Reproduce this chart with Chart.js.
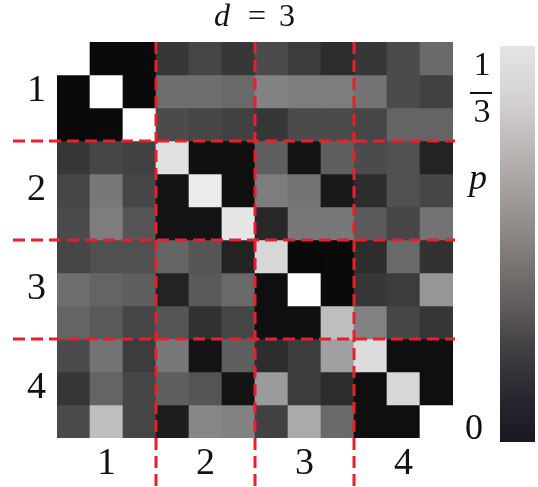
<!DOCTYPE html>
<html>
<head>
<meta charset="utf-8">
<script src="https://cdn.jsdelivr.net/npm/chart.js@4/dist/chart.umd.min.js"></script>
<style>
    html, body { margin: 0; padding: 0; background: #fff; }
    #wrap { width: 538px; height: 487px; }
</style>
</head>
<body>
<div id="wrap"><canvas id="myChart"></canvas></div>
<script>
// p values, row by row (top to bottom), 12 x 12
const pValues = [
    [0.333, 0.013, 0.013, 0.072, 0.092, 0.072, 0.098, 0.078, 0.059, 0.072, 0.098, 0.137],
    [0.013, 0.333, 0.013, 0.144, 0.144, 0.137, 0.170, 0.163, 0.163, 0.150, 0.098, 0.085],
    [0.013, 0.013, 0.333, 0.098, 0.092, 0.085, 0.072, 0.098, 0.098, 0.092, 0.131, 0.131],
    [0.072, 0.092, 0.085, 0.294, 0.020, 0.020, 0.124, 0.026, 0.124, 0.098, 0.105, 0.046],
    [0.092, 0.157, 0.092, 0.026, 0.307, 0.020, 0.163, 0.150, 0.033, 0.059, 0.105, 0.092],
    [0.098, 0.163, 0.111, 0.026, 0.026, 0.301, 0.052, 0.157, 0.157, 0.118, 0.092, 0.150],
    [0.092, 0.105, 0.105, 0.131, 0.111, 0.046, 0.281, 0.013, 0.013, 0.059, 0.137, 0.065],
    [0.144, 0.131, 0.124, 0.046, 0.118, 0.137, 0.020, 0.333, 0.013, 0.072, 0.078, 0.196],
    [0.131, 0.118, 0.092, 0.111, 0.065, 0.092, 0.020, 0.020, 0.248, 0.170, 0.092, 0.072],
    [0.098, 0.150, 0.078, 0.157, 0.026, 0.124, 0.059, 0.078, 0.209, 0.288, 0.020, 0.020],
    [0.072, 0.131, 0.092, 0.124, 0.111, 0.026, 0.203, 0.078, 0.059, 0.020, 0.281, 0.020],
    [0.098, 0.248, 0.092, 0.039, 0.176, 0.170, 0.085, 0.222, 0.137, 0.020, 0.020, 0.333]
]
const blockLabels = ['1', '2', '3', '4']
const blockSize = 3
const pMax = 1 / 3

// colour bar stops (fraction of pMax -> colour)
const barStops = [0, 0.1, 0.23, 0.36, 0.53, 0.66, 0.86, 1]
const barColors = ['#191823', '#26252d', '#403e42', '#65605f', '#8e8885', '#aaa5a3', '#d3d1d0', '#e5e4e5']

const n = pValues.length
const columns = pValues[0].map((v, i) => 'c' + (i + 1))
const blockCenters = blockLabels.map((l, i) => i * blockSize + blockSize / 2)
const blockEdges = blockLabels.slice(1).map((l, i) => (i + 1) * blockSize)

function grey(p) {
    const g = Math.max(0, Math.min(255, Math.round(p / pMax * 255)))
    return 'rgb(' + g + ',' + g + ',' + g + ')'
}

const datasets = pValues.map((row, r) => ({
    label: 'row ' + (r + 1),
    data: row.map(() => 1),
    backgroundColor: row.map(grey),
    borderWidth: 0,
    barPercentage: 1,
    categoryPercentage: 1,
    stack: 's'
}))

const serif = "'Liberation Serif', 'DejaVu Serif', serif"

function blockLabel(i) {
    return i % blockSize === 1 ? blockLabels[Math.floor(i / blockSize)] : ''
}

const decor = {
    id: 'decor',
    afterDatasetsDraw(chart) {
        const ctx = chart.ctx
        const area = chart.chartArea
        const xs = chart.scales.x
        const ys = chart.scales.y
        ctx.save()

        // red dashed block separators
        ctx.strokeStyle = '#e8202a'
        ctx.lineWidth = 3
        ctx.setLineDash([12, 6])
        blockEdges.forEach(v => {
            const y = ys.getPixelForValue(v)
            ctx.beginPath()
            ctx.moveTo(13, y)
            ctx.lineTo(area.right + 2, y)
            ctx.stroke()
            const x = (xs.getPixelForTick(v - 1) + xs.getPixelForTick(v)) / 2
            ctx.beginPath()
            ctx.moveTo(x, area.top)
            ctx.lineTo(x, chart.height)
            ctx.stroke()
        })
        ctx.setLineDash([])

        // title d = 3
        const cx = (area.left + area.right) / 2
        ctx.fillStyle = '#111'
        ctx.textAlign = 'center'
        ctx.textBaseline = 'alphabetic'
        ctx.font = 'italic 32px ' + serif
        ctx.fillText('d', cx - 33, 26)
        ctx.font = '32px ' + serif
        ctx.fillText('=', cx + 2, 26)
        ctx.fillText('3', cx + 32, 26)

        // colour bar
        const bx = area.right + 47
        const bw = 35
        const top = area.top + 4
        const bottom = area.bottom + 4
        const grad = ctx.createLinearGradient(0, bottom, 0, top)
        barStops.forEach((s, i) => grad.addColorStop(s, barColors[i]))
        ctx.fillStyle = grad
        ctx.fillRect(bx, top, bw, bottom - top)

        // colour bar labels
        ctx.fillStyle = '#111'
        ctx.font = '34px ' + serif
        ctx.textBaseline = 'middle'
        ctx.fillText('1', 482, 66)
        ctx.fillText('3', 482, 113)
        ctx.fillRect(470, 92, 22, 2)
        ctx.font = 'italic 36px ' + serif
        ctx.fillText('p', 478, 180)
        ctx.font = '36px ' + serif
        ctx.fillText('0', 474, 430)
        ctx.restore()
    }
}

const ctx = document.getElementById('myChart')
const config = {
    type: 'bar',
    data: { labels: columns, datasets: datasets },
    options: {
        responsive: true,
        maintainAspectRatio: false,
        animation: false,
        layout: { padding: { top: 42, right: 85, left: 0, bottom: 0 } },
        plugins: { legend: { display: false }, tooltip: { enabled: false } },
        scales: {
            x: {
                stacked: true,
                grid: { display: false }, border: { display: false },
                afterFit: s => { s.height = 49 },
                ticks: {
                    padding: -5, color: '#111', autoSkip: false, maxRotation: 0,
                    font: { family: serif, size: 38 },
                    callback: (v, i) => blockLabel(i)
                }
            },
            y: {
                type: 'linear', stacked: true, reverse: true, min: 0, max: n,
                grid: { display: false }, border: { display: false },
                afterBuildTicks: s => { s.ticks = blockCenters.map(v => ({ value: v })) },
                afterFit: s => { s.width = 57 },
                ticks: {
                    padding: 3, color: '#111',
                    font: { family: serif, size: 38 },
                    callback: v => blockLabels[Math.floor(v / blockSize)]
                }
            }
        }
    },
    plugins: [decor]
}
const myChart = new Chart(ctx, config)
</script>
</body>
</html>
